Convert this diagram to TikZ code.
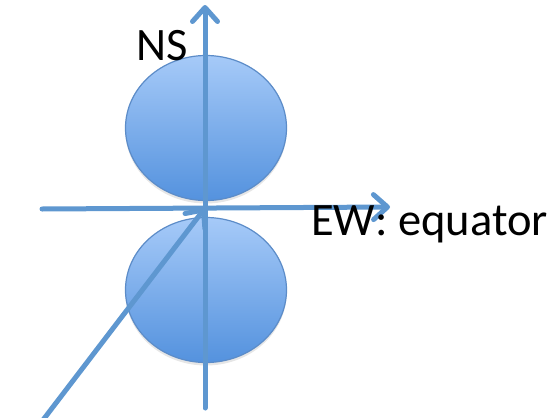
\documentclass[tikz,border=0pt]{standalone}
\usepackage{fontspec}
\setmainfont{Carlito}
\usetikzlibrary{arrows.meta,shapes.geometric,shadows}
\definecolor{axisblue}{RGB}{94,151,208}
\definecolor{lobetop}{RGB}{166,202,248}
\definecolor{lobebot}{RGB}{84,146,222}
\definecolor{lobeline}{RGB}{92,140,200}

\begin{document}
\begin{tikzpicture}[x=1pt, y=-1pt,
    lobe/.style={ellipse, draw=lobeline, line width=1.2pt, top color=lobetop, bottom color=lobebot, minimum width=161pt, minimum height=145pt, inner sep=0pt,
        drop shadow={shadow xshift=0pt, shadow yshift=-3pt, opacity=0.2}},
    axisline/.style={draw=axisblue, line width=5pt, line cap=round, line join=round},
    axisarrow/.style={axisline, -{Straight Barb[length=14pt, width=25pt, line width=5pt, line cap=round, line join=round]}},
    every node/.style={font=\fontsize{46.5}{54}\selectfont}]
    \useasboundingbox (0,0) rectangle (558,418);

    \node[lobe] (north) at (206,128) {};
    \node[lobe] (south) at (206,290) {};

    \coordinate (origin) at (205,208);
    \coordinate (nsend) at (205,408);
    \coordinate (nstip) at (205,5);
    \coordinate (ewend) at (42,209);
    \coordinate (ewtip) at (390,207);
    \coordinate (diagend) at (43,420);

    \draw[axisarrow] (nsend) -- (nstip);
    \draw[axisarrow] (ewend) -- (ewtip);
    \draw[axisarrow] (diagend) -- (origin);

    \node[anchor=base west, inner sep=0pt] (nslabel) at (136,60) {NS};
    \node[anchor=base west, inner sep=0pt] (ewlabel) at (311,235) {EW: equator};
\end{tikzpicture}
\end{document}
